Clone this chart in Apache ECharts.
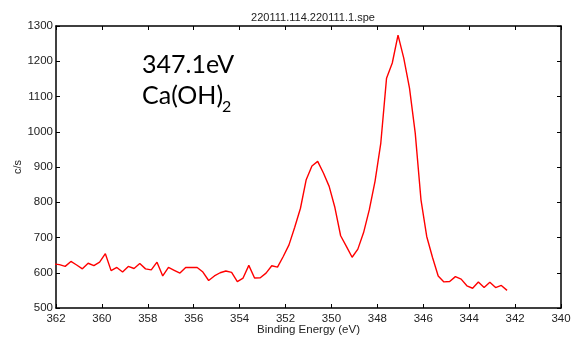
<!DOCTYPE html>
<html>
<head>
<meta charset="utf-8">
<script src="https://cdn.jsdelivr.net/npm/echarts@6/dist/echarts.min.js"></script>
<style>
html,body{margin:0;padding:0;background:#fff;}
#chart{width:571px;height:340px;}
</style>
</head>
<body>
<div id="chart"></div>
<script>
var titleText = '220111.114.220111.1.spe';
var xAxisName = 'Binding Energy (eV)';
var yAxisName = 'c/s';
var annotationPeak = '347.1eV';
var annotationCompound = 'Ca(OH)';
var annotationSub = '2';

var energies = [
  362.1, 361.85, 361.6, 361.35, 361.1, 360.85, 360.6, 360.35, 360.1, 359.85,
  359.6, 359.35, 359.1, 358.85, 358.6, 358.35, 358.1, 357.85, 357.6, 357.35,
  357.1, 356.85, 356.6, 356.35, 356.1, 355.85, 355.6, 355.35, 355.1, 354.85,
  354.6, 354.35, 354.1, 353.85, 353.6, 353.35, 353.1, 352.85, 352.6, 352.35,
  352.1, 351.85, 351.6, 351.35, 351.1, 350.85, 350.6, 350.35, 350.1, 349.85,
  349.6, 349.35, 349.1, 348.85, 348.6, 348.35, 348.1, 347.85, 347.6, 347.35,
  347.1, 346.85, 346.6, 346.35, 346.1, 345.85, 345.6, 345.35, 345.1, 344.85,
  344.6, 344.35, 344.1, 343.85, 343.6, 343.35, 343.1, 342.85, 342.6, 342.35
];
var counts = [
  625, 623, 618, 632, 622, 611, 627, 620, 630, 654,
  606, 615, 602, 618, 612, 626, 611, 608, 630, 591,
  615, 607, 599, 615, 615, 615, 602, 578, 591, 600,
  605, 601, 575, 585, 621, 585, 586, 599, 620, 616,
  646, 679, 729, 783, 864, 903, 916, 883, 845, 785,
  705, 675, 644, 667, 714, 779, 860, 968, 1152, 1195,
  1274, 1209, 1124, 996, 807, 703, 644, 591, 574, 575,
  589, 582, 563, 556, 574, 558, 573, 558, 564, 550
];

var xMin = 340, xMax = 362, xStep = 2;
var yMin = 500, yMax = 1300, yStep = 100;

var seriesData = energies.map(function (e, i) { return [e, counts[i]]; });

var chart = echarts.init(document.getElementById('chart'), null, {renderer: 'canvas'});
var fam = '"Liberation Sans", Arial, sans-serif';
var labelFont = {fontFamily: fam, fontSize: 11.5, color: '#222'};
var axisLineStyle = {color: '#000', width: 1.5};
function plain(v) { return String(v); }

function xAx(pos, show) {
  return {
    type: 'value', position: pos, min: xMin, max: xMax, interval: xStep, inverse: true,
    name: show ? xAxisName : '', nameLocation: 'middle', nameGap: 16, nameMoveOverlap: false,
    nameTextStyle: {fontFamily: fam, fontSize: 11.5, color: '#222'},
    axisLine: {show: true, onZero: false, lineStyle: axisLineStyle},
    axisTick: {show: true, inside: true, length: 4, lineStyle: {color: '#000', width: 1}},
    axisLabel: Object.assign({show: show, margin: 5, showMinLabel: true, showMaxLabel: true, formatter: plain}, labelFont),
    splitLine: {show: false}
  };
}
function yAx(pos, show) {
  return {
    type: 'value', position: pos, min: yMin, max: yMax, interval: yStep,
    name: show ? yAxisName : '', nameLocation: 'middle', nameGap: 33, nameRotate: 90, nameMoveOverlap: false,
    nameTextStyle: {fontFamily: fam, fontSize: 11, color: '#222'},
    axisLine: {show: true, onZero: false, lineStyle: axisLineStyle},
    axisTick: {show: true, inside: true, length: 4, lineStyle: {color: '#000', width: 1}},
    axisLabel: Object.assign({show: show, margin: 3, showMinLabel: true, showMaxLabel: true, formatter: plain}, labelFont),
    splitLine: {show: false}
  };
}

chart.setOption({
  animation: false,
  backgroundColor: '#fff',
  title: {
    text: titleText, left: 308, top: 7, textAlign: 'center',
    textStyle: {fontFamily: fam, fontSize: 11, fontWeight: 'normal', color: '#222'}
  },
  grid: {left: 56, right: 10, top: 26, bottom: 32, containLabel: false, outerBoundsMode: 'none'},
  xAxis: [xAx('bottom', true), xAx('top', false)],
  yAxis: [yAx('left', true), yAx('right', false)],
  graphic: [
    {type: 'text', left: 142, top: 52, style: {text: annotationPeak, font: '25px Lato, "Liberation Sans", sans-serif', fill: '#000'}},
    {type: 'text', left: 142, top: 83, style: {text: annotationCompound, font: '25px Lato, "Liberation Sans", sans-serif', fill: '#000'}},
    {type: 'text', left: 222, top: 99, style: {text: annotationSub, font: '16px Lato, "Liberation Sans", sans-serif', fill: '#000'}}
  ],
  series: [{
    type: 'line', xAxisIndex: 0, yAxisIndex: 0, data: seriesData,
    showSymbol: false, clip: true,
    lineStyle: {color: '#ff0000', width: 1.4}
  }]
});
</script>
</body>
</html>
